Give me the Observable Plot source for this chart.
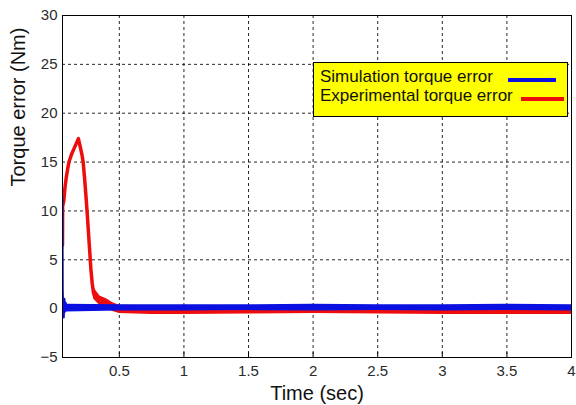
<!DOCTYPE html>
<html>
<head>
<meta charset="utf-8">
<script src="https://cdn.jsdelivr.net/npm/d3@7"></script>
<script src="https://cdn.jsdelivr.net/npm/@observablehq/plot@0.6"></script>
<style>
  html, body { margin: 0; padding: 0; background: #fff; }
  #wrap { position: relative; width: 576px; height: 405px; font-family: "Liberation Sans", Arial, sans-serif; }
  #legend { position: absolute; left: 313px; top: 62px; width: 255px; height: 55px; background: #ffff00; border: 1px solid #000; box-sizing: border-box; }
  #legend .row { position: absolute; left: 6px; font-size: 17px; color: #111; white-space: nowrap; line-height: 1; }
  #legend .swatch { position: absolute; height: 4px; }
</style>
</head>
<body>
<div id="wrap"></div>
<script>
// ---- data ----
const xTicks = [0.5, 1, 1.5, 2, 2.5, 3, 3.5, 4];
const yTicks = [-5, 0, 5, 10, 15, 20, 25, 30];

const seriesNames = ["Simulation torque error", "Experimental torque error"];

// Experimental torque error (red) – main trace
const redTime  = [0.060, 0.061, 0.070, 0.080, 0.090, 0.100, 0.110, 0.130, 0.150, 0.170, 0.183, 0.190, 0.200, 0.210, 0.220, 0.230, 0.240, 0.250, 0.260, 0.270, 0.275, 0.280, 0.290, 0.300, 0.310, 0.320, 0.340, 0.370, 0.400, 0.450, 0.500, 1.0, 1.5, 2.0, 2.5, 3.0, 3.5, 4.0];
const redValue = [6.5, 10.5, 11.0, 12.5, 13.5, 14.3, 15.0, 15.8, 16.4, 17.0, 17.4, 17.0, 16.4, 15.8, 15.0, 13.5, 11.8, 10.0, 8.0, 6.0, 5.0, 4.0, 2.6, 1.6, 1.2, 1.0, 0.9, 0.7, 0.4, 0.1, -0.1, -0.15, -0.15, -0.1, -0.1, -0.15, -0.15, -0.15];
// Experimental noise envelope
const redBandTime = [0.30, 0.35, 0.40, 0.45, 0.50, 0.75, 1.0, 1.5, 2.0, 2.5, 3.0, 3.5, 4.0];
const redLow      = [1.0, 0.3, 0.0, -0.3, -0.5, -0.6, -0.6, -0.55, -0.5, -0.55, -0.6, -0.6, -0.6];
const redHigh     = [2.2, 1.3, 1.0, 0.6, 0.35, 0.3, 0.3, 0.3, 0.35, 0.3, 0.3, 0.3, 0.3];

// Simulation torque error (blue) – main trace
const blueTime  = [0.060, 0.062, 0.065, 0.070, 0.075, 0.080, 0.085, 0.090, 0.100, 0.120, 0.150, 0.180, 0.200, 0.250, 0.300, 0.5, 1.0, 1.5, 2.0, 2.5, 3.0, 3.5, 4.0];
const blueValue = [11.4, 2.0, 0.3, -0.9, 1.0, -0.3, 0.6, 0.1, 0.2, 0.1, 0.15, 0.35, 0.2, 0.1, 0.1, 0.05, 0.05, 0.05, 0.1, 0.1, 0.05, 0.1, 0.1];
// Simulation noise envelope
const blueBandTime = [0.09, 0.5, 1.0, 1.5, 2.0, 2.5, 3.0, 3.5, 4.0];
const blueLow      = [-0.35, -0.25, -0.25, -0.2, -0.25, -0.2, -0.25, -0.2, -0.25];
const blueHigh     = [0.45, 0.4, 0.4, 0.4, 0.45, 0.4, 0.4, 0.45, 0.4];

// ---- build tables ----
const red = redTime.map((t, i) => ({t, v: redValue[i]}));
const redBand = redBandTime.map((t, i) => ({t, lo: redLow[i], hi: redHigh[i]}));
const blue = blueTime.map((t, i) => ({t, v: blueValue[i]}));
const blueBand = blueBandTime.map((t, i) => ({t, lo: blueLow[i], hi: blueHigh[i]}));

const RED = "#ee0d0d", BLUE = "#0a10e0";

const chart = Plot.plot({
  width: 576,
  height: 405,
  marginLeft: 62,
  marginRight: 5,
  marginTop: 15,
  marginBottom: 48,
  style: {fontFamily: "'Liberation Sans', Arial, sans-serif", background: "#fff"},
  x: {domain: [0.06, 4], ticks: xTicks, label: null},
  y: {domain: [-5, 30], ticks: yTicks, label: null},
  marks: [
    Plot.gridX(xTicks, {stroke: "#000", strokeOpacity: 0.85, strokeDasharray: "3,3"}),
    Plot.gridY(yTicks, {stroke: "#000", strokeOpacity: 0.85, strokeDasharray: "3,3"}),
    Plot.areaY(redBand, {x: "t", y1: "lo", y2: "hi", fill: RED, curve: "linear", clip: true}),
    Plot.line(red, {x: "t", y: "v", stroke: RED, strokeWidth: 3.5, strokeLinejoin: "round", clip: true}),
    Plot.areaY(blueBand, {x: "t", y1: "lo", y2: "hi", fill: BLUE, curve: "linear", clip: true}),
    Plot.line(blue, {x: "t", y: "v", stroke: BLUE, strokeWidth: 2, clip: true}),
    Plot.ruleX(xTicks, {x: d => d, y1: -5, y2: -4.5, stroke: "#000"}),
    Plot.frame({stroke: "#000", strokeWidth: 1}),
    Plot.axisX(xTicks, {tickSize: 0, tickPadding: 8, fontSize: 15, fill: "#2a2a2a", label: null, tickFormat: d => String(d)}),
    Plot.axisY(yTicks, {tickSize: 0, tickPadding: 5, fontSize: 15, fill: "#2a2a2a", label: null}),
    Plot.text(["Time (sec)"], {frameAnchor: "bottom", dy: 42, fontSize: 20, fill: "#111"}),
    Plot.text(["Torque error (Nm)"], {frameAnchor: "left", dx: -44, rotate: -90, fontSize: 20, fill: "#111"})
  ]
});

const wrap = document.getElementById("wrap");
wrap.appendChild(chart);

// legend overlay
const legend = document.createElement("div");
legend.id = "legend";
const rows = [
  {name: seriesNames[0], color: BLUE, top: 5, sx: 194, sw: 48, sy: 15},
  {name: seriesNames[1], color: RED, top: 24, sx: 207, sw: 43, sy: 34}
];
rows.forEach(r => {
  const t = document.createElement("div");
  t.className = "row";
  t.style.top = r.top + "px";
  t.textContent = r.name;
  legend.appendChild(t);
  const s = document.createElement("div");
  s.className = "swatch";
  s.style.left = r.sx + "px";
  s.style.width = r.sw + "px";
  s.style.top = r.sy + "px";
  s.style.background = r.color;
  legend.appendChild(s);
});
wrap.appendChild(legend);
</script>
</body>
</html>
